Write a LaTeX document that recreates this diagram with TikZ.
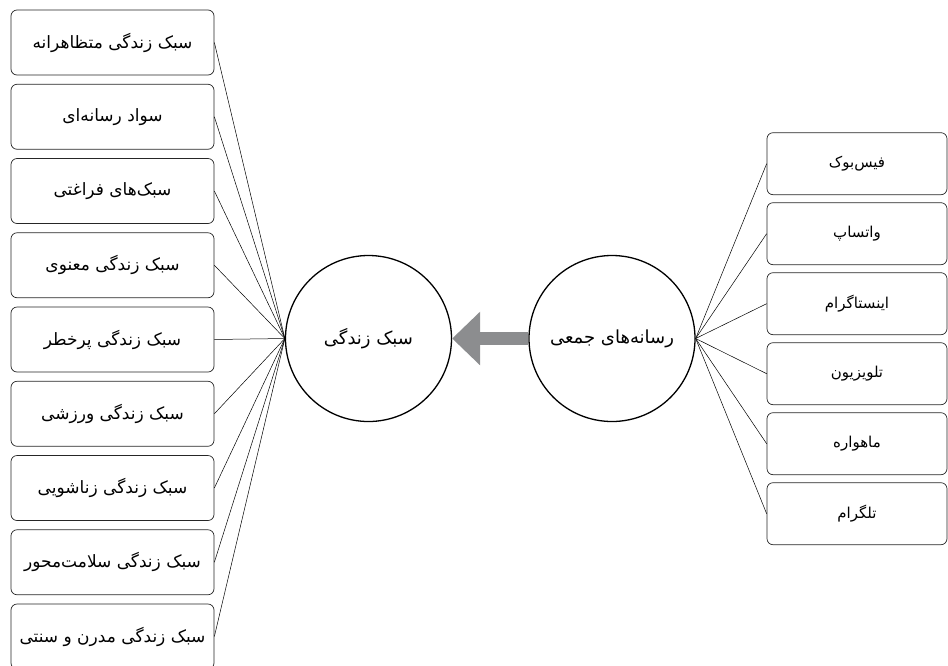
\documentclass[tikz,border=0pt]{standalone}
\usepackage{fontspec}
\usetikzlibrary{arrows.meta}
\TeXXeTstate=1
\newfontfamily\arabicfont[Script=Arabic]{DejaVu Sans}
\newcommand{\fa}[1]{\arabicfont\beginR #1\endR}
\definecolor{arrowgray}{RGB}{140,141,143}
\begin{document}
\begin{tikzpicture}[x=1pt,y=-1pt,
  lbox/.style={draw=black!85, line width=0.7pt, rounded corners=6pt, minimum width=203pt, minimum height=65pt, inner sep=0pt, font=\fontsize{17}{20}\selectfont},
  rbox/.style={draw=black!85, line width=0.7pt, rounded corners=6pt, minimum width=180pt, minimum height=62pt, inner sep=0pt, font=\fontsize{15}{18}\selectfont},
  bigcirc/.style={draw=black, line width=1.3pt, circle, minimum size=166pt, inner sep=0pt, font=\fontsize{18}{21}\selectfont},
  link/.style={draw=black, line width=0.5pt}]
\useasboundingbox (0,0) rectangle (948,665);
\node[lbox] (l1) at (112.5,42.5) {\fa{سبک زندگی متظاهرانه}};
\node[lbox] (l2) at (112.5,116.75) {\fa{سواد رسانه‌ای}};
\node[lbox] (l3) at (112.5,191) {\fa{سبک‌های فراغتی}};
\node[lbox] (l4) at (112.5,265.25) {\fa{سبک زندگی معنوی}};
\node[lbox] (l5) at (112.5,339.5) {\fa{سبک زندگی پرخطر}};
\node[lbox] (l6) at (112.5,413.75) {\fa{سبک زندگی ورزشی}};
\node[lbox] (l7) at (112.5,488) {\fa{سبک زندگی زناشویی}};
\node[lbox] (l8) at (112.5,562.25) {\fa{سبک زندگی سلامت‌محور}};
\node[lbox] (l9) at (112.5,636.5) {\fa{سبک زندگی مدرن و سنتی}};
\node[bigcirc] (lc) at (368.5,338.5) {\fa{سبک زندگی}};
\node[bigcirc] (rc) at (612,338.5) {\fa{رسانه‌های جمعی}};
\node[rbox] (r1) at (857,163.7) {\fa{فیس‌بوک}};
\node[rbox] (r2) at (857,233.7) {\fa{واتساپ}};
\node[rbox] (r3) at (857,303.7) {\fa{اینستاگرام}};
\node[rbox] (r4) at (857,373.7) {\fa{تلویزیون}};
\node[rbox] (r5) at (857,443.7) {\fa{ماهواره}};
\node[rbox] (r6) at (857,513.7) {\fa{تلگرام}};
\foreach \i in {1,...,9} \draw[link] (l\i.east) -- (lc.west);
\foreach \i in {1,...,6} \draw[link] (r\i.west) -- (rc.east);
\draw[arrowgray, line width=13pt, -{Triangle[length=28pt, width=52pt]}] (rc.west) -- (lc.east);
\end{tikzpicture}
\end{document}
